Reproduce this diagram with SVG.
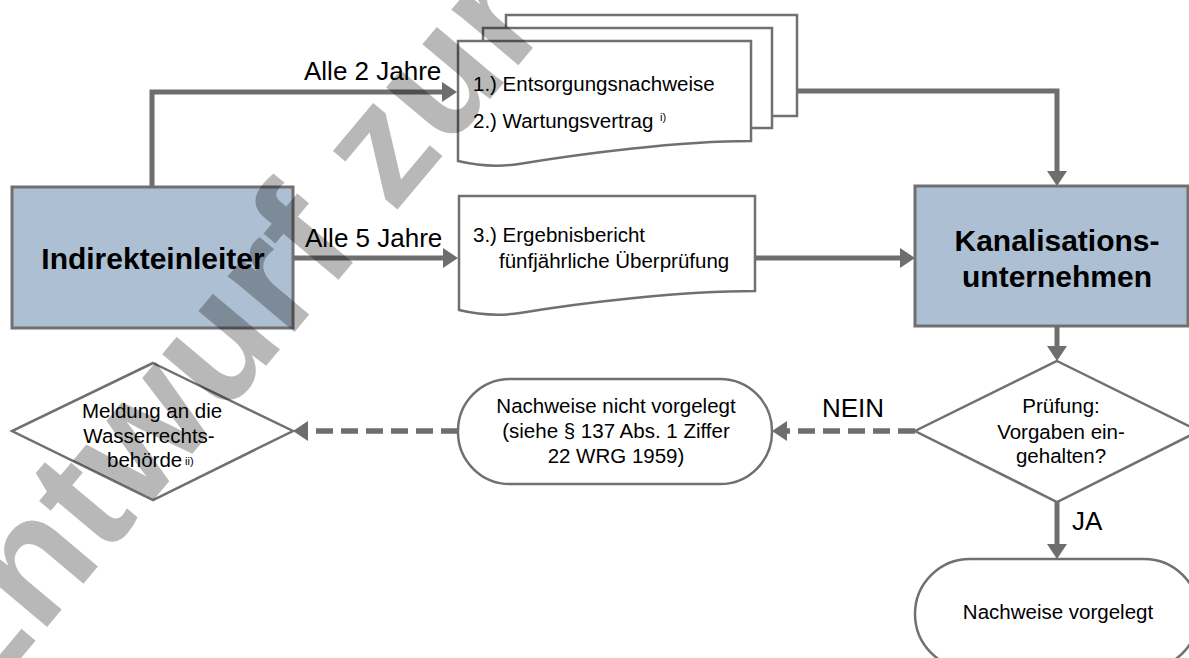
<svg xmlns="http://www.w3.org/2000/svg" width="1189" height="658" viewBox="0 0 1189 658">
<defs>
<style>
.box{fill:#adbfd2;stroke:#707070;stroke-width:3}
.shape{fill:#ffffff;stroke:#707070;stroke-width:2.5}
.con{fill:none;stroke:#6e6e6e;stroke-width:5}
.dash{fill:none;stroke:#6e6e6e;stroke-width:5.5;stroke-dasharray:17 8}
.t{font-family:"Liberation Sans",Arial,sans-serif;font-size:20.5px;fill:#000}
.lbl{font-family:"Liberation Sans",Arial,sans-serif;font-size:26px;fill:#000}
.big{font-family:"Liberation Sans",Arial,sans-serif;font-size:30px;font-weight:bold;fill:#000}
.sup{font-family:"Liberation Sans",Arial,sans-serif;font-size:11px;fill:#000}
.wm{font-family:"Liberation Sans",Arial,sans-serif;font-size:165px;font-weight:bold;fill:#000;fill-opacity:0.28}
</style>
<marker id="ah" markerUnits="userSpaceOnUse" markerWidth="15" markerHeight="20" viewBox="0 0 15 20" refX="5" refY="10" orient="auto">
<path d="M0,0 L15,10 L0,20 Z" fill="#6e6e6e"/>
</marker>
</defs>
<rect width="1189" height="658" fill="#ffffff"/>

<g id="indirekteinleiter">
<rect class="box" x="12" y="187" width="281" height="141"/>
<text class="big" x="153" y="269" text-anchor="middle">Indirekteinleiter</text>
</g>

<g id="dokumente-1-2">
<rect class="shape" x="506" y="15" width="291" height="101"/>
<rect class="shape" x="483" y="28" width="289" height="100"/>
<path class="shape" d="M458,41 H751 V141 C679,141 579,154 519,164 C499,167 479,166 458,161 Z"/>
<text class="t" x="473" y="91">1.) Entsorgungsnachweise</text>
<text class="t" x="473" y="128">2.) Wartungsvertrag</text>
<text class="sup" x="660" y="121">i)</text>
</g>

<g id="dokument-3">
<path class="shape" d="M459,196 H755 V291 C680,291 580,303 520,313 C500,316 480,315 459,310 Z"/>
<text class="t" x="473" y="242">3.) Ergebnisbericht</text>
<text class="t" x="499" y="268">fünfjährliche Überprüfung</text>
</g>

<g id="kanalisationsunternehmen">
<rect class="box" x="915" y="186" width="273" height="140"/>
<text class="big" x="1057" y="251" text-anchor="middle">Kanalisations-</text>
<text class="big" x="1057" y="287" text-anchor="middle">unternehmen</text>
</g>

<g id="pruefung">
<polygon class="shape" points="1057,361 1199,431 1057,502 915,431"/>
<text class="t" x="1061" y="413" text-anchor="middle">Prüfung:</text>
<text class="t" x="1061" y="438.5" text-anchor="middle">Vorgaben ein-</text>
<text class="t" x="1061" y="463" text-anchor="middle">gehalten?</text>
</g>

<g id="nicht-vorgelegt">
<rect class="shape" x="458" y="379" width="314" height="105" rx="52" ry="52"/>
<text class="t" x="616" y="413" text-anchor="middle">Nachweise nicht vorgelegt</text>
<text class="t" x="616" y="438" text-anchor="middle">(siehe § 137 Abs. 1 Ziffer</text>
<text class="t" x="616" y="463" text-anchor="middle">22 WRG 1959)</text>
</g>

<g id="meldung">
<polygon class="shape" points="153,363 293,431 153,500 12,431"/>
<text class="t" x="152" y="418" text-anchor="middle">Meldung an die</text>
<text class="t" x="149" y="443" text-anchor="middle">Wasserrechts-</text>
<text class="t" x="107" y="467">behörde</text>
<text class="sup" x="185" y="465">ii)</text>
</g>

<g id="vorgelegt">
<rect class="shape" x="915" y="559" width="284" height="110" rx="55" ry="55"/>
<text class="t" x="1058" y="619" text-anchor="middle">Nachweise vorgelegt</text>
</g>

<g id="connectors">
<path class="con" d="M152,187 V92 H447" marker-end="url(#ah)"/>
<path class="con" d="M293,258 H448" marker-end="url(#ah)"/>
<path class="con" d="M755,258 H905" marker-end="url(#ah)"/>
<path class="con" d="M797,91 H1057 V176" marker-end="url(#ah)"/>
<path class="con" d="M1057,326 V351" marker-end="url(#ah)"/>
<path class="con" d="M1057,502 V549" marker-end="url(#ah)"/>
<path class="dash" d="M915,431 H782" marker-end="url(#ah)"/>
<path class="dash" d="M458,431 H303" marker-end="url(#ah)"/>
<text class="lbl" x="304" y="80">Alle 2 Jahre</text>
<text class="lbl" x="305" y="247">Alle 5 Jahre</text>
<text class="lbl" x="822" y="417">NEIN</text>
<text class="lbl" x="1072" y="530">JA</text>
</g>

<text class="wm" transform="translate(-31,720) rotate(-50)">Entwurf zur Begutachtung</text>
</svg>
